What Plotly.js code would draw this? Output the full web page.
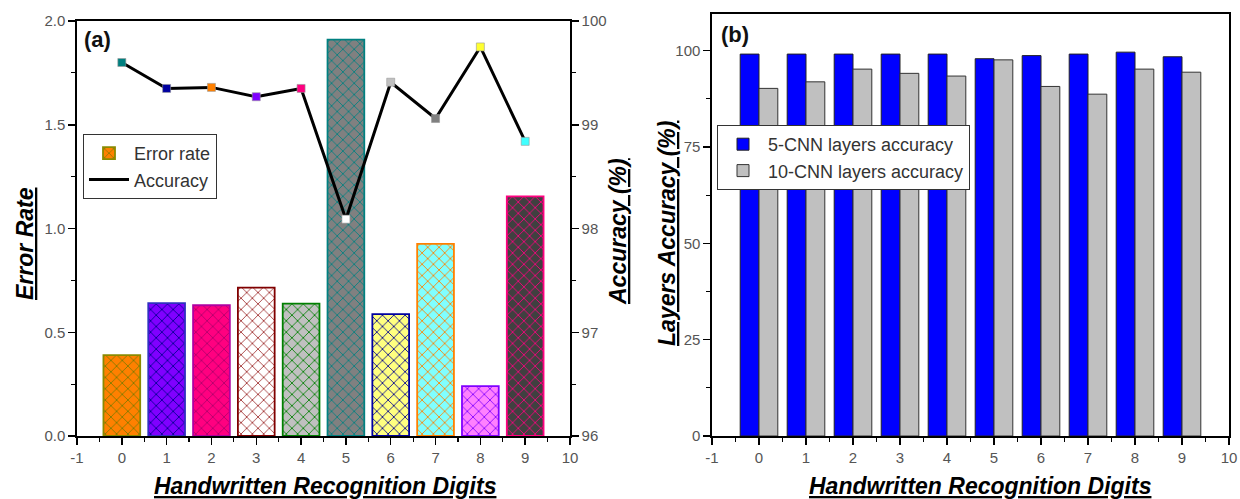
<!DOCTYPE html>
<html>
<head>
<meta charset="utf-8">
<script src="https://cdn.plot.ly/plotly-3.0.1.min.js"></script>
<style>html,body{margin:0;padding:0;background:#fff;}#chart{width:1240px;height:499px;}</style>
</head>
<body>
<div id="chart"></div>
<script>
// ---- data ----
const digits = [0, 1, 2, 3, 4, 5, 6, 7, 8, 9];
const errorRate = [0.39, 0.64, 0.63, 0.715, 0.638, 1.91, 0.587, 0.926, 0.24, 1.155];
const accuracy = [99.60, 99.35, 99.36, 99.27, 99.35, 98.09, 99.41, 99.06, 99.75, 98.84];
const cnn5Accuracy = [99.1, 99.1, 99.1, 99.1, 99.1, 97.9, 98.7, 99.1, 99.6, 98.4];
const cnn10Accuracy = [90.2, 91.9, 95.2, 94.1, 93.4, 97.6, 90.7, 88.7, 95.2, 94.4];
const xTickVals = [-1, 0, 1, 2, 3, 4, 5, 6, 7, 8, 9, 10];
const xTickText = ['-1', '0', '1', '2', '3', '4', '5', '6', '7', '8', '9', '10'];

// ---- styles ----
const barFill = ['#ff8000', '#8000ff', '#ff0080', '#ffffff', '#c0c0c0', '#808080', '#ffff80', '#80ffff', '#ff80ff', '#404040'];
const barPattern = ['#7a7a00', '#000090', '#b0006a', '#a03030', '#008000', '#008080', '#000090', '#ff8000', '#8000ff', '#ff0080'];
const barEdge = ['#8a8a00', '#3030c0', '#b000a0', '#800000', '#008000', '#008080', '#0000a0', '#ff8000', '#8000ff', '#ff0080'];
const markerFill = ['#008080', '#0000a0', '#ff8000', '#8000ff', '#ff0080', '#ffffff', '#c0c0c0', '#808080', '#ffff30', '#40ffff'];

const W = 1240, H = 499;
const px = v => v / W;
const py = v => 1 - v / H;

const FAM = 'Liberation Sans, Arial, sans-serif';
const tickFont = {family: FAM, size: 15, color: '#555'};
const titleFont = {family: FAM, size: 23, color: '#000'};
const ttl = s => '<b><i><u>' + s + '</u></i></b>';

// one bar trace per digit so each can carry its own hatch colours
const errorTraces = digits.map((d, i) => ({
  type: 'bar', x: [d], y: [errorRate[i]], name: 'Error rate', width: 0.82,
  xaxis: 'x', yaxis: 'y', legend: 'legend', legendgroup: 'err', showlegend: i === 0,
  offsetgroup: 'err',
  marker: {
    color: barFill[i],
    line: {color: barEdge[i], width: 1.8},
    pattern: {shape: 'x', fgcolor: barPattern[i], fgopacity: 1, size: 8, solidity: 0.2, fillmode: 'overlay'}
  }
}));

const traces = errorTraces.concat([
  {
    type: 'scatter', mode: 'lines', x: digits, y: accuracy, name: 'Accuracy',
    xaxis: 'x', yaxis: 'y2', legend: 'legend',
    line: {color: '#000', width: 3}
  },
  {
    type: 'scatter', mode: 'markers', x: digits, y: accuracy, name: 'Accuracy markers', showlegend: false,
    xaxis: 'x', yaxis: 'y2',
    marker: {symbol: 'square', size: 8, color: markerFill, line: {color: '#999', width: 0.6}}
  },
  {
    type: 'bar', x: digits, y: cnn5Accuracy, name: '5-CNN layers accuracy',
    xaxis: 'x2', yaxis: 'y3', legend: 'legend2', offsetgroup: 'c5',
    marker: {color: '#0000ff', line: {color: '#222', width: 1}}
  },
  {
    type: 'bar', x: digits, y: cnn10Accuracy, name: '10-CNN layers accuracy',
    xaxis: 'x2', yaxis: 'y3', legend: 'legend2', offsetgroup: 'c10',
    marker: {color: '#c0c0c0', line: {color: '#333', width: 1}}
  }
]);

const xCommon = {
  range: [-1, 10], tickvals: xTickVals, ticktext: xTickText,
  showgrid: false, zeroline: false, showline: true, linecolor: '#000', linewidth: 1.6,
  ticks: 'outside', ticklen: 7, tickwidth: 1.5, tickcolor: '#000',
  minor: {ticks: 'outside', ticklen: 4, tickwidth: 1.2, tickcolor: '#000', dtick: 0.5, tick0: -0.5, showgrid: false},
  tickfont: tickFont, fixedrange: true
};
const yCommon = {
  showgrid: false, zeroline: false, showline: true, linecolor: '#000', linewidth: 1.6,
  ticks: 'outside', ticklen: 7, tickwidth: 1.5, tickcolor: '#000',
  tickfont: tickFont, fixedrange: true
};

const legendCommon = {
  xanchor: 'left', yanchor: 'top',
  bgcolor: '#fff', bordercolor: '#333', borderwidth: 1,
  font: {family: FAM, size: 18, color: '#333'},
  tracegroupgap: 0, itemwidth: 40
};

const layout = {
  width: W, height: H,
  margin: {l: 0, r: 0, t: 0, b: 0},
  paper_bgcolor: '#fff', plot_bgcolor: '#fff',
  barmode: 'group', bargap: 0.2, bargroupgap: 0,
  showlegend: true,
  xaxis: Object.assign({}, xCommon, {domain: [px(77), px(570)], anchor: 'y', mirror: true}),
  yaxis: Object.assign({}, yCommon, {domain: [py(436), py(21)], anchor: 'x', range: [0, 2], dtick: 0.5, tickformat: '.1f',
    minor: {ticks: 'outside', ticklen: 4, tickwidth: 1.2, tickcolor: '#000', dtick: 0.25, showgrid: false}}),
  yaxis2: Object.assign({}, yCommon, {overlaying: 'y', side: 'right', anchor: 'x', range: [96, 100], dtick: 1,
    minor: {ticks: 'outside', ticklen: 4, tickwidth: 1.2, tickcolor: '#000', dtick: 0.5, showgrid: false}}),
  xaxis2: Object.assign({}, xCommon, {domain: [px(712), px(1229)], anchor: 'y3', mirror: true}),
  yaxis3: Object.assign({}, yCommon, {domain: [py(436), py(14)], anchor: 'x2', range: [0, 109.5], dtick: 25, mirror: true,
    minor: {ticks: 'outside', ticklen: 4, tickwidth: 1.2, tickcolor: '#000', dtick: 12.5, showgrid: false}}),
  legend: Object.assign({}, legendCommon, {x: px(83), y: py(134)}),
  legend2: Object.assign({}, legendCommon, {x: px(717), y: py(125)}),
  annotations: [
    {text: ttl('Error Rate'), xref: 'paper', yref: 'paper', x: px(25), y: py(244), textangle: -90, showarrow: false, font: titleFont, xanchor: 'center', yanchor: 'middle'},
    {text: ttl('Accuracy (%)'), xref: 'paper', yref: 'paper', x: px(618), y: py(232), textangle: -90, showarrow: false, font: titleFont, xanchor: 'center', yanchor: 'middle'},
    {text: ttl('Layers Accuracy (%)'), xref: 'paper', yref: 'paper', x: px(667), y: py(234), textangle: -90, showarrow: false, font: titleFont, xanchor: 'center', yanchor: 'middle'},
    {text: ttl('Handwritten Recognition Digits'), xref: 'paper', yref: 'paper', x: px(325), y: py(486), showarrow: false, font: titleFont, xanchor: 'center', yanchor: 'middle'},
    {text: ttl('Handwritten Recognition Digits'), xref: 'paper', yref: 'paper', x: px(980), y: py(486), showarrow: false, font: titleFont, xanchor: 'center', yanchor: 'middle'},
    {text: '<b>(a)</b>', xref: 'paper', yref: 'paper', x: px(98), y: py(40), showarrow: false, font: {family: FAM, size: 22, color: '#111'}, xanchor: 'center', yanchor: 'middle'},
    {text: '<b>(b)</b>', xref: 'paper', yref: 'paper', x: px(735), y: py(35), showarrow: false, font: {family: FAM, size: 22, color: '#111'}, xanchor: 'center', yanchor: 'middle'}
  ]
};

Plotly.newPlot('chart', traces, layout, {displayModeBar: false, staticPlot: true});
</script>
</body>
</html>
